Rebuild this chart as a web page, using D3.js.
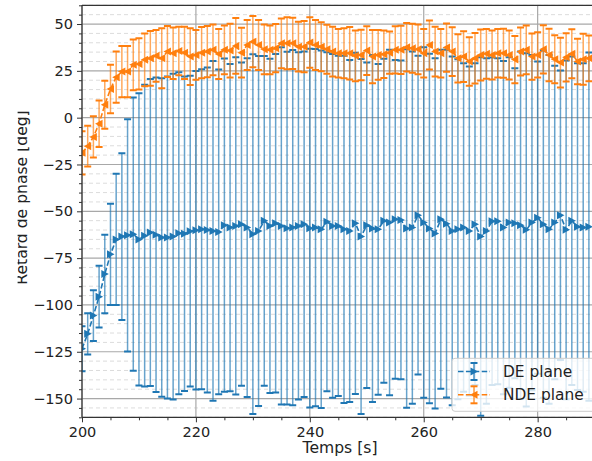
<!DOCTYPE html>
<html><head><meta charset="utf-8">
<script src="https://cdn.jsdelivr.net/npm/d3@7"></script>
<style>body{margin:0;background:#fff}svg{display:block;font-family:"DejaVu Sans",sans-serif}</style>
</head><body><svg id="c" width="592" height="461"></svg>
<script>
const times = [200,201,202,203,204,205,206,207,208,209,210,211,212,213,214,215,216,217,218,219,
220,221,222,223,224,225,226,227,228,229,230,231,232,233,234,235,236,237,238,239,
240,241,242,243,244,245,246,247,248,249,250,251,252,253,254,255,256,257,258,259,
260,261,262,263,264,265,266,267,268,269,270,271,272,273,274,275,276,277,278,279,
280,281,282,283,284,285,286,287,288,289];
const deMean = [-123.4,-115.4,-105.7,-95.6,-83.5,-73.0,-65.0,-63.5,-62.8,-62.2,-65.0,-63.0,-61.3,-62.5,-64.0,-64.0,-63.5,-61.7,-62.0,-60.6,
-60.1,-59.6,-60.0,-60.5,-61.0,-57.4,-58.7,-57.8,-56.9,-58.7,-62.2,-60.5,-55.1,-57.8,-56.4,-57.8,-59.0,-58.7,-57.8,-56.9,
-59.0,-58.7,-59.6,-55.6,-57.8,-57.8,-59.6,-60.5,-56.4,-63.5,-57.4,-59.2,-59.6,-55.1,-56.0,-54.3,-54.6,-59.2,-58.7,-52.1,
-56.0,-59.2,-61.8,-54.3,-56.6,-60.5,-59.6,-58.7,-60.5,-56.9,-63.5,-60.5,-55.3,-55.3,-58.7,-56.0,-56.4,-57.4,-59.9,-56.0,
-53.4,-56.9,-59.6,-56.0,-52.1,-59.9,-55.1,-58.2,-58.7,-58.2];
const deErr = [12,11,13.5,16.5,21,27,35,44.5,62,73,78,80.6,82,84,85,86,87,86,84,83,
85,85.4,86.8,90.7,86.7,89,87.4,90,86.3,90.4,96,93.4,88,89.2,90.4,95.4,94.2,94.8,92.7,92.2,
95.8,95.4,95.4,90.5,91.8,90.8,92.7,91.3,91.1,94.8,86.9,92.6,88.3,86.5,92.2,85.1,85.1,95.7,94,85.1,
93.6,93.3,93.5,90.5,92.8,93.1,90.8,87.7,87.8,85.9,95.7,92.2,87.4,87,89,88.2,82.8,92.7,94.3,89.5,
83.4,92.7,93.1,83.7,77.3,90.4,87.7,87.2,87.7,93];
const ndeMean = [-18.8,-15.2,-10.3,-3.2,6.9,15.3,21.6,24.6,24.6,28.2,28.7,30.9,31.7,33.0,31.7,35.3,34.4,35.6,34.6,32.6,
33.5,34.7,35.3,36.2,34.0,36.2,35.8,38.3,34.7,38.8,40.6,38.8,36.5,36.2,37.1,39.7,39.7,39.7,37.9,37.9,
40.1,38.8,37.9,36.5,35.3,34.4,34.4,34.4,33.0,33.5,35.8,32.6,33.5,33.9,34.7,36.2,36.2,37.6,37.1,36.5,
34.4,38.8,35.3,34.4,37.4,35.3,31.7,32.6,30.0,31.7,33.5,34.1,33.5,34.4,34.4,33.5,31.0,35.3,36.2,32.6,
33.5,36.5,33.5,31.2,29.4,32.2,34.1,30.0,31.2,31.7];
const ndeErr = [11.5,10.9,11,12.4,12.8,12.9,13.7,13.7,13.7,13.6,13.7,14.1,14.6,13.8,16,13.6,13.8,13,14,15.1,
13.3,13.7,13.7,13.6,13.3,13,14.4,14.9,13.3,13.3,13.7,13.3,13.3,13,12.9,13.3,13.9,13.7,13.3,13.7,
13.5,13.3,13.1,13.1,13.3,13,13.3,14,13.5,13.5,13,14.2,13.3,12.7,11.3,12.6,12.9,12.9,13.1,13.3,
13,13.1,13.3,12.9,12.9,13,12.9,13.6,12.9,13.5,13.6,13.3,13.1,12.9,13.1,13.1,12.6,12.8,13,12.4,
12.1,12.9,14,12.8,13.3,12.9,13.1,12.2,13.6,12.2];
const xTicks = [200,220,240,260,280];
const yTicks = [-150,-125,-100,-75,-50,-25,0,25,50];
const seriesNames = ["DE plane","NDE plane"];
const colors = ["#1f77b4","#ff7f0e"];

const svg = d3.select("#c");
const L=82, R=594.6, T=5.3, B=417.3;
const x = d3.scaleLinear().domain([200,290]).range([L,R]);
const y = d3.scaleLinear().domain([-160,60]).range([B,T]);
const fmt = d => d3.format("d")(d);

// grid
const g = svg.append("g");
const yMinor = d3.range(-160,61,5).filter(v=>!yTicks.includes(v));
g.selectAll(null).data(yMinor).join("line")
 .attr("x1",L).attr("x2",R).attr("y1",d=>y(d)).attr("y2",d=>y(d))
 .attr("stroke","#dcdcdc").attr("stroke-width",1).attr("stroke-dasharray","4,3");
g.selectAll(null).data(yTicks).join("line")
 .attr("x1",L).attr("x2",R).attr("y1",d=>y(d)).attr("y2",d=>y(d))
 .attr("stroke","#a8a8a8").attr("stroke-width",1.2);
g.selectAll(null).data(xTicks).join("line")
 .attr("y1",T).attr("y2",B).attr("x1",d=>x(d)).attr("x2",d=>x(d))
 .attr("stroke","#a8a8a8").attr("stroke-width",1.2);

svg.append("clipPath").attr("id","pc").append("rect").attr("x",L).attr("y",T).attr("width",R-L).attr("height",B-T);
const plot = svg.append("g").attr("clip-path","url(#pc)");

const triR = "M4,0L-3.5,-4L-3.5,4Z";
const triL = "M-4,0L3.5,-4L3.5,4Z";
const series = [
 {mean:deMean, err:deErr, color:colors[0], marker:triR},
 {mean:ndeMean, err:ndeErr, color:colors[1], marker:triL}
];
const capW = 3.5;
series.forEach(s=>{
  const pts = times.map((t,i)=>({t, m:s.mean[i], e:s.err[i]}));
  const sg = plot.append("g");
  sg.selectAll(null).data(pts).join("line")
    .attr("x1",d=>x(d.t)).attr("x2",d=>x(d.t))
    .attr("y1",d=>y(d.m+d.e)).attr("y2",d=>y(d.m-d.e))
    .attr("stroke",s.color).attr("stroke-width",1.5).attr("stroke-opacity",0.68);
  [1,-1].forEach(sign=>{
    sg.selectAll(null).data(pts).join("line")
      .attr("x1",d=>x(d.t)-capW).attr("x2",d=>x(d.t)+capW)
      .attr("y1",d=>y(d.m+sign*d.e)).attr("y2",d=>y(d.m+sign*d.e))
      .attr("stroke",s.color).attr("stroke-width",2);
  });
  sg.append("path").datum(pts)
    .attr("d",d3.line().x(d=>x(d.t)).y(d=>y(d.m)))
    .attr("fill","none").attr("stroke",s.color).attr("stroke-width",1.6).attr("stroke-dasharray","5.5,2.4");
  sg.selectAll(null).data(pts).join("path")
    .attr("d",s.marker).attr("transform",d=>`translate(${x(d.t)},${y(d.m)})`)
    .attr("fill",s.color);
});

// spines
svg.append("line").attr("x1",L).attr("x2",R+2).attr("y1",T).attr("y2",T).attr("stroke","#333").attr("stroke-width",1.2);
svg.append("line").attr("x1",L).attr("x2",R+2).attr("y1",B).attr("y2",B).attr("stroke","#333").attr("stroke-width",1.2);
svg.append("line").attr("x1",L).attr("x2",L).attr("y1",T).attr("y2",B).attr("stroke","#333").attr("stroke-width",1.2);

// axes
const ax = svg.append("g").attr("transform",`translate(0,${B})`)
  .call(d3.axisBottom(x).tickValues(xTicks).tickFormat(fmt).tickSize(5).tickPadding(4.5));
const axm = svg.append("g").attr("transform",`translate(0,${B})`)
  .call(d3.axisBottom(x).tickValues(d3.range(205,290,5).filter(v=>!xTicks.includes(v))).tickFormat("").tickSize(3));
const ay = svg.append("g").attr("transform",`translate(${L},0)`)
  .call(d3.axisLeft(y).tickValues(yTicks).tickFormat(fmt).tickSize(5).tickPadding(4));
const aym = svg.append("g").attr("transform",`translate(${L},0)`)
  .call(d3.axisLeft(y).tickValues(yMinor).tickFormat("").tickSize(3));
[ax,axm,ay,aym].forEach(a=>{
  a.select(".domain").remove();
  a.selectAll(".tick line").attr("stroke","#333").attr("stroke-width",1);
  a.selectAll("text").attr("fill","#222").attr("font-size","14.5px").attr("font-family","DejaVu Sans");
});
ax.selectAll("text").attr("dy","0.71em");

// labels
svg.append("text").attr("x",340).attr("y",453).attr("text-anchor","middle")
  .attr("font-size","15.6px").attr("fill","#222").text("Temps [s]");
svg.append("clipPath").attr("id","lc").append("rect").attr("x",17.6).attr("y",0).attr("width",60).attr("height",461);
svg.append("g").attr("clip-path","url(#lc)").append("text")
  .attr("transform","translate(26.6,197.5) rotate(-90)").attr("text-anchor","middle")
  .attr("font-size","15.6px").attr("fill","#222").text("Retard de phase [deg]");

// legend
const lg = svg.append("g");
lg.append("rect").attr("x",452).attr("y",358.3).attr("width",150).attr("height",53).attr("rx",3)
  .attr("fill","#fff").attr("fill-opacity",0.8).attr("stroke","#ccc").attr("stroke-width",1);
series.forEach((s,i)=>{
  const cy = 371.5 + i*23.3;
  lg.append("line").attr("x1",458).attr("x2",490).attr("y1",cy).attr("y2",cy)
    .attr("stroke",s.color).attr("stroke-width",1.6).attr("stroke-dasharray","5.5,2.4");
  lg.append("line").attr("x1",474).attr("x2",474).attr("y1",cy-8.5).attr("y2",cy+8.5)
    .attr("stroke",s.color).attr("stroke-width",1.5).attr("stroke-opacity",0.8);
  [-8.5,8.5].forEach(o=>lg.append("line").attr("x1",474-capW).attr("x2",474+capW).attr("y1",cy+o).attr("y2",cy+o)
    .attr("stroke",s.color).attr("stroke-width",2));
  lg.append("path").attr("d",s.marker).attr("transform",`translate(474,${cy})`).attr("fill",s.color);
  lg.append("text").attr("x",503).attr("y",cy+5.6).attr("font-size","15.4px").attr("fill","#222").text(seriesNames[i]);
});
</script></body></html>
